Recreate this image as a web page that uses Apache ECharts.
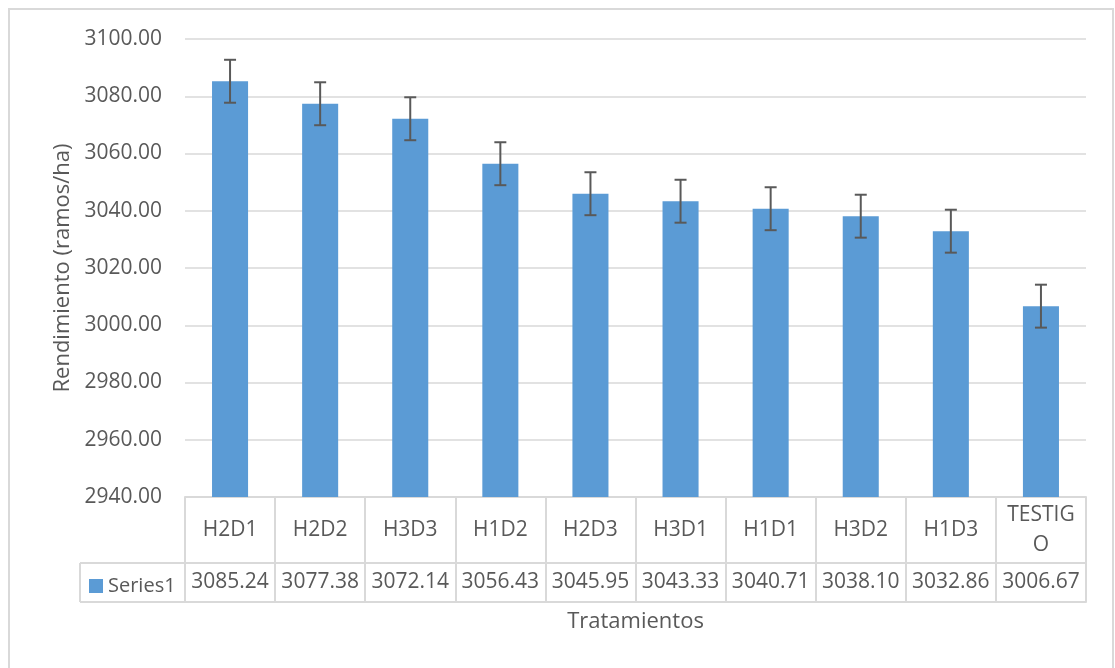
<!DOCTYPE html>
<html>
<head>
<meta charset="utf-8">
<script src="https://cdn.jsdelivr.net/npm/echarts@6/dist/echarts.min.js"></script>
<style>
  html, body { margin: 0; padding: 0; background: #fff; }
  #chart { width: 1115px; height: 668px; }
</style>
</head>
<body>
<div id="chart"></div>
<script>
  // data
  var categories = ['H2D1', 'H2D2', 'H3D3', 'H1D2', 'H2D3', 'H3D1', 'H1D1', 'H3D2', 'H1D3', 'TESTIGO']
  var values = [3085.24, 3077.38, 3072.14, 3056.43, 3045.95, 3043.33, 3040.71, 3038.10, 3032.86, 3006.67]
  var errors = [7.5, 7.5, 7.5, 7.5, 7.5, 7.5, 7.5, 7.5, 7.5, 7.5]
  var yTicks = { min: 2940, max: 3100, step: 20 }

  var font = '"Open Sans", "Liberation Sans", sans-serif'
  var textColor = '#595959'
  var gridColor = '#d9d9d9'

  var errData = values.map(function (v, i) {
    return [i, v - errors[i], v + errors[i]]
  })
  var valueLabels = values.map(function (v) { return v.toFixed(2) })

  var myChart = echarts.init(document.getElementById('chart'))

  var option = {
    animation: false,
    textStyle: { fontFamily: font },
    grid: { left: 185, right: 29, top: 39, bottom: 171 },
    legend: {
      data: ['Series1'],
      left: 84,
      top: 571,
      icon: 'rect',
      itemWidth: 14,
      itemHeight: 14,
      textStyle: { fontSize: 20, color: textColor, fontFamily: font }
    },
    xAxis: [
      {
        type: 'category',
        data: categories,
        position: 'bottom',
        axisLine: { show: true, lineStyle: { color: gridColor, width: 2 } },
        axisTick: { show: true, length: 66, interval: 0, lineStyle: { color: gridColor, width: 2 } },
        axisLabel: {
          interval: 0,
          margin: 33,
          verticalAlign: 'middle',
          fontSize: 21,
          lineHeight: 30,
          color: textColor,
          formatter: function (v) { return v === 'TESTIGO' ? 'TESTIG\nO' : v }
        },
        splitLine: { show: false }
      },
      {
        type: 'category',
        data: valueLabels,
        position: 'bottom',
        offset: 66,
        axisLine: { show: true, lineStyle: { color: gridColor, width: 2 } },
        axisTick: { show: true, length: 39, interval: 0, lineStyle: { color: gridColor, width: 2 } },
        axisLabel: {
          interval: 0,
          margin: 19,
          verticalAlign: 'middle',
          fontSize: 21,
          color: textColor
        }
      },
      {
        type: 'category',
        data: categories,
        position: 'bottom',
        offset: 105,
        axisLine: { show: true, lineStyle: { color: gridColor, width: 2 } },
        axisTick: { show: false },
        axisLabel: { show: false },
        name: 'Tratamientos',
        nameLocation: 'middle',
        nameGap: 9,
        nameTextStyle: { fontSize: 22, color: textColor, verticalAlign: 'top' }
      }
    ],
    yAxis: {
      type: 'value',
      min: yTicks.min,
      max: yTicks.max,
      interval: yTicks.step,
      axisLine: { show: false },
      axisTick: { show: false },
      axisLabel: {
        margin: 23,
        fontSize: 21,
        color: textColor,
        formatter: function (v) { return v.toFixed(2) }
      },
      splitLine: { lineStyle: { color: gridColor, width: 1.5 } },
      name: 'Rendimiento (ramos/ha)',
      nameLocation: 'middle',
      nameGap: 111,
      nameTextStyle: { fontSize: 22, color: textColor }
    },
    series: [
      {
        name: 'Series1',
        type: 'bar',
        data: values,
        barWidth: '40%',
        itemStyle: { color: '#5b9bd5' }
      },
      {
        name: 'err',
        type: 'custom',
        data: errData,
        z: 10,
        renderItem: function (params, api) {
          var x = api.value(0)
          var lo = api.coord([x, api.value(1)])
          var hi = api.coord([x, api.value(2)])
          var w = 6
          var style = { stroke: textColor, lineWidth: 2 }
          return {
            type: 'group',
            children: [
              { type: 'line', shape: { x1: lo[0], y1: lo[1], x2: hi[0], y2: hi[1] }, style: style },
              { type: 'line', shape: { x1: lo[0] - w, y1: lo[1], x2: lo[0] + w, y2: lo[1] }, style: style },
              { type: 'line', shape: { x1: hi[0] - w, y1: hi[1], x2: hi[0] + w, y2: hi[1] }, style: style }
            ]
          }
        }
      }
    ],
    graphic: [
      // outer chart border
      { type: 'rect', shape: { x: 9, y: 9, width: 1104, height: 670 }, style: { fill: 'none', stroke: gridColor, lineWidth: 2 }, silent: true },
      // legend cell of the data table
      { type: 'line', shape: { x1: 80, y1: 563, x2: 185, y2: 563 }, style: { stroke: gridColor, lineWidth: 2 }, silent: true },
      { type: 'line', shape: { x1: 80, y1: 602, x2: 185, y2: 602 }, style: { stroke: gridColor, lineWidth: 2 }, silent: true },
      { type: 'line', shape: { x1: 80, y1: 563, x2: 80, y2: 602 }, style: { stroke: gridColor, lineWidth: 2 }, silent: true }
    ]
  }

  myChart.setOption(option)
</script>
</body>
</html>
